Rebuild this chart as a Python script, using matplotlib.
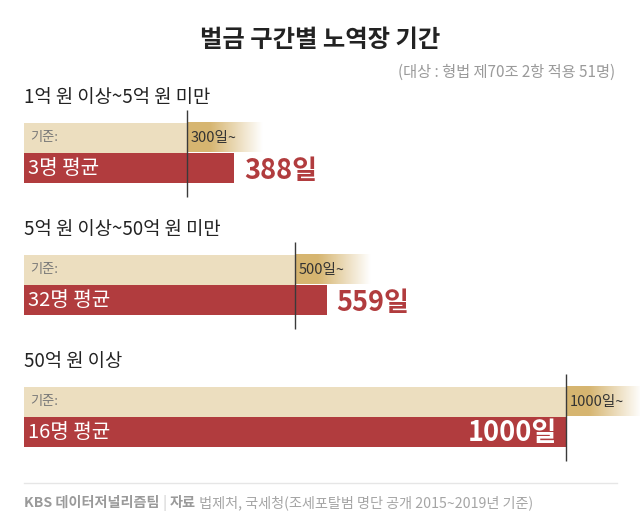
import numpy as np
import matplotlib
matplotlib.use('Agg')
import matplotlib.pyplot as plt

plt.rcParams['font.family'] = ['Noto Sans CJK KR', 'DejaVu Sans']

# 데이터
groups = ['1억 원 이상~5억 원 미만', '5억 원 이상~50억 원 미만', '50억 원 이상']
thresholds = [300, 500, 1000]
averages = [388, 559, 1000]
counts = [3, 32, 16]

BEIGE = '#ecdebf'
GOLD = (0.84, 0.71, 0.44)
RED = '#b13c3e'

fig = plt.figure(figsize=(6.4, 5.27), dpi=100)
fig.patch.set_facecolor('white')

# 제목
fig.text(0.5, 1 - 40 / 527, '벌금 구간별 노역장 기간', ha='center', va='center',
         fontsize=17.5, fontweight='bold', color='#222222')
fig.text(615 / 640, 1 - 72 / 527, '(대상 : 형법 제70조 2항 적용 51명)', ha='right',
         va='center', fontsize=11, color='#9a9a9a')

# 본문 축: x는 일수, y는 픽셀 단위 배치
ax = fig.add_axes([24 / 640, 0, 616 / 640, 1])
xmax = 616 / 0.542
ax.axis('off')

fade = 140  # 그라데이션 길이(일)
grad = np.zeros((1, 100, 4))
grad[..., 0], grad[..., 1], grad[..., 2] = GOLD
a = np.clip((1 - np.linspace(0, 1, 100)) / 0.7, 0, 1)
grad[0, :, 3] = a

for i, (g, t, avg, n) in enumerate(zip(groups, thresholds, averages, counts)):
    top = 123 + 132 * i
    ax.text(0, top - 26, g, ha='left', va='center', fontsize=13.5, color='#222222')
    ax.barh(top, t, height=29.5, left=0, align='edge', color=BEIGE, zorder=1)
    ax.imshow(grad, extent=[t, t + fade, top + 29.5, top], aspect='auto',
              zorder=1, interpolation='bicubic')
    ax.barh(top + 29.5, avg, height=30, left=0, align='edge', color=RED, zorder=2)
    ax.vlines(t, top - 13, top + 74, color='#3a3a3a', lw=1, zorder=3)
    ax.text(11, top + 15, '기준:', ha='left', va='center', fontsize=9.5, color='#777777')
    ax.text(t + 7, top + 15, f'{t}일~', ha='left', va='center', fontsize=10.5,
            color='#333333', zorder=4)
    ax.text(8, top + 45, f'{n}명 평균', ha='left', va='center', fontsize=14.5,
            color='white', zorder=4)
    if avg * 0.542 > 500:
        ax.text(avg - 16, top + 46, f'{avg}일', ha='right', va='center', fontsize=19.5,
                fontweight='bold', color='white', zorder=4)
    else:
        ax.text(avg + 18, top + 48, f'{avg}일', ha='left', va='center', fontsize=19.5,
                fontweight='bold', color=RED, zorder=4)

ax.set_xlim(0, xmax)
ax.set_ylim(527, 0)

# 하단 출처
fig.add_artist(plt.Line2D([24 / 640, 617 / 640], [1 - 483 / 527] * 2, color='#e6e6e6', lw=1))
fs = 10.2
t1 = fig.text(24 / 640, 1 - 503 / 527, 'KBS 데이터저널리즘팀', ha='left', va='center',
              fontsize=fs, fontweight='bold', color='#9a9a9a')
t2 = fig.text(0, 0, ' | ', fontsize=fs, color='#c8c8c8', va='center')
t3 = fig.text(0, 0, '자료', fontsize=fs, fontweight='bold', color='#9a9a9a', va='center')
t4 = fig.text(0, 0, ' 법제처, 국세청(조세포탈범 명단 공개 2015~2019년 기준)', fontsize=fs,
              color='#a5a5a5', va='center')
fig.canvas.draw()
r = fig.canvas.get_renderer()
prev = t1
for t in (t2, t3, t4):
    bb = prev.get_window_extent(r)
    t.set_position((bb.x1 / fig.bbox.width, 1 - 503 / 527))
    prev = t

fig.savefig('out.png', dpi=100)
